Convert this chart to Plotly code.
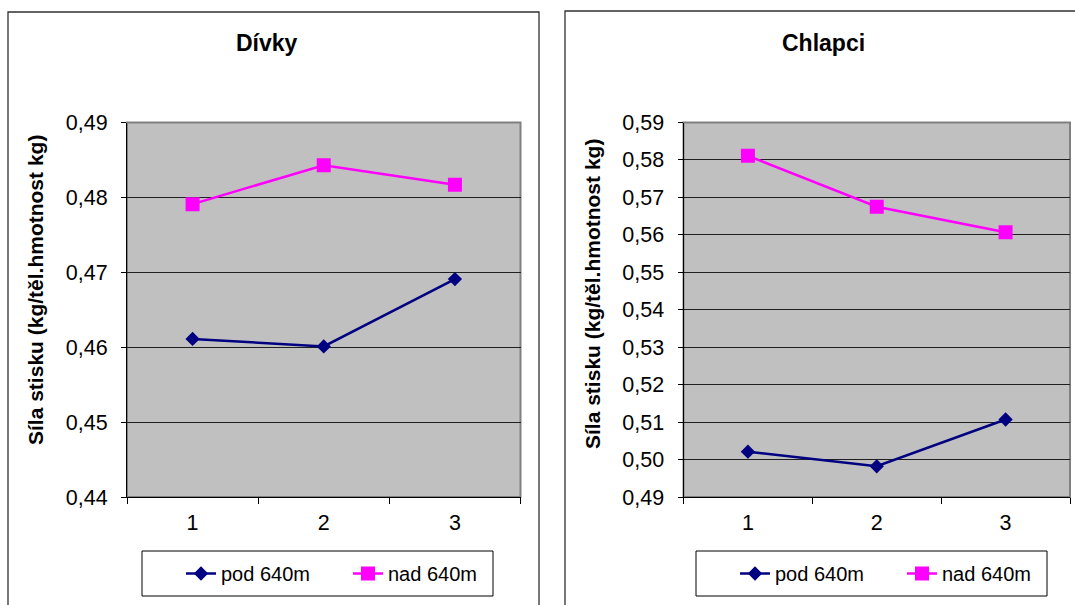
import plotly.graph_objects as go

# ---- data ----
categories = ["1", "2", "3"]
divky_pod = [0.4611, 0.4601, 0.4691]
divky_nad = [0.4791, 0.4843, 0.4817]
chlapci_pod = [0.5021, 0.4982, 0.5107]
chlapci_nad = [0.5811, 0.5675, 0.5607]
series_names = ["pod 640m", "nad 640m"]
titles = ["Dívky", "Chlapci"]
y_title = "Síla stisku (kg/těl.hmotnost kg)"

W, H = 1075, 605
FONT = "Liberation Sans, Arial, sans-serif"
NAVY = "#000080"
MAGENTA = "#FF00FF"


def px(x):
    return x / W


def py(y):
    return 1 - y / H


fig = go.Figure()

def add_pair(pod, nad, xa, ya, legend):
    fig.add_trace(go.Scatter(
        x=categories, y=pod, name=series_names[0], mode="lines+markers",
        line=dict(color=NAVY, width=2.5),
        marker=dict(symbol="diamond", size=11, color=NAVY),
        xaxis=xa, yaxis=ya, legend=legend))
    fig.add_trace(go.Scatter(
        x=categories, y=nad, name=series_names[1], mode="lines+markers",
        line=dict(color=MAGENTA, width=2.5),
        marker=dict(symbol="square", size=14, color=MAGENTA),
        xaxis=xa, yaxis=ya, legend=legend))

add_pair(divky_pod, divky_nad, "x", "y", "legend")
add_pair(chlapci_pod, chlapci_nad, "x2", "y2", "legend2")

tickfont = dict(family=FONT, size=21.5, color="black")

xcommon = dict(type="category", tickson="boundaries", ticks="outside", ticklen=6,
               tickcolor="black", tickwidth=1, showline=True, linecolor="black",
               linewidth=1, showgrid=False, tickfont=tickfont, fixedrange=True,
               range=[-0.5, 2.5], ticklabelstandoff=6)
ycommon = dict(ticks="outside", ticklen=5, tickcolor="black", tickwidth=1,
               showline=True, linecolor="black", linewidth=1, showgrid=True,
               gridcolor="#202020", gridwidth=1, zeroline=False, tickfont=tickfont,
               tickformat=".2f", fixedrange=True, ticklabelstandoff=9)

y_dom = [py(497), py(122.5)]

legend_common = dict(orientation="h", y=py(573.5), xanchor="left",
                     yanchor="middle", bgcolor="rgba(0,0,0,0)", borderwidth=0,
                     font=dict(family=FONT, size=20, color="black"),
                     entrywidth=122, entrywidthmode="pixels")

fig.update_layout(
    width=W, height=H,
    margin=dict(l=0, r=0, t=0, b=0, autoexpand=False),
    paper_bgcolor="white",
    plot_bgcolor="#C0C0C0",
    separators=", ",
    font=dict(family=FONT, size=21, color="black"),
    xaxis=dict(domain=[px(127), px(520.5)], anchor="y", **xcommon),
    yaxis=dict(domain=y_dom, anchor="x", range=[0.44, 0.49], dtick=0.01, **ycommon),
    xaxis2=dict(domain=[px(683.5), px(1070)], anchor="y2", **xcommon),
    yaxis2=dict(domain=y_dom, anchor="x2", range=[0.49, 0.59], dtick=0.01, **ycommon),
    legend=dict(x=px(181), **legend_common),
    legend2=dict(x=px(735), **legend_common),
    showlegend=True,
)

shapes = [
    # chart panel borders
    dict(type="rect", xref="paper", yref="paper", x0=px(8), x1=px(539),
         y0=py(12), y1=py(640), line=dict(color="#303030", width=1.3)),
    dict(type="rect", xref="paper", yref="paper", x0=px(565), x1=px(1100),
         y0=py(11), y1=py(640), line=dict(color="#303030", width=1.3)),
    # plot area borders (gray top/right)
    dict(type="rect", xref="x domain", yref="y domain", x0=0, x1=1, y0=0, y1=1,
         line=dict(color="#808080", width=2), layer="below"),
    dict(type="rect", xref="x2 domain", yref="y2 domain", x0=0, x1=1, y0=0, y1=1,
         line=dict(color="#808080", width=2), layer="below"),
    # legend boxes
    dict(type="rect", xref="paper", yref="paper", x0=px(142), x1=px(493),
         y0=py(551), y1=py(596), line=dict(color="black", width=1)),
    dict(type="rect", xref="paper", yref="paper", x0=px(696), x1=px(1047),
         y0=py(551), y1=py(596), line=dict(color="black", width=1)),
]
fig.update_layout(shapes=shapes)

annotations = [
    dict(text="<b>%s</b>" % titles[0], x=px(267), y=py(43), xref="paper", yref="paper",
         showarrow=False, xanchor="center", yanchor="middle",
         font=dict(family=FONT, size=23, color="black")),
    dict(text="<b>%s</b>" % titles[1], x=px(823), y=py(43), xref="paper", yref="paper",
         showarrow=False, xanchor="center", yanchor="middle",
         font=dict(family=FONT, size=23, color="black")),
    dict(text="<b>%s</b>" % y_title, x=px(35), y=py(290), xref="paper", yref="paper",
         showarrow=False, xanchor="center", yanchor="middle", textangle=-90,
         font=dict(family=FONT, size=21, color="black")),
    dict(text="<b>%s</b>" % y_title, x=px(592), y=py(294), xref="paper", yref="paper",
         showarrow=False, xanchor="center", yanchor="middle", textangle=-90,
         font=dict(family=FONT, size=21, color="black")),
]
fig.update_layout(annotations=annotations)

fig.write_html("out.html")
